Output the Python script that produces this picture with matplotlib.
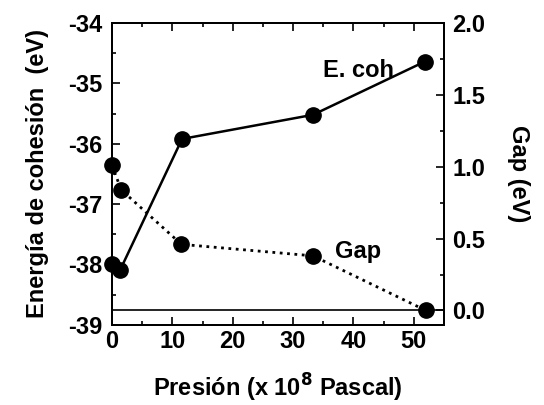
import matplotlib
matplotlib.use("Agg")
import matplotlib.pyplot as plt
from matplotlib.ticker import MultipleLocator

# values
presion_coh = [0.0, 1.3, 11.6, 33.3, 51.8]
energia_coh = [-38.0, -38.1, -35.92, -35.52, -34.64]

presion_gap = [0.0, 1.5, 11.5, 33.3, 52.0]
gap = [1.01, 0.84, 0.46, 0.38, 0.0]

plt.rcParams['font.family'] = ['Liberation Sans', 'DejaVu Sans']
plt.rcParams['font.size'] = 17
plt.rcParams['font.weight'] = 'bold'
plt.rcParams['axes.labelweight'] = 'bold'
plt.rcParams['axes.unicode_minus'] = False

fig = plt.figure(figsize=(5.44, 4.05), dpi=100)
ax = fig.add_axes([0.206, 0.198, 0.61, 0.745])
ax2 = ax.twinx()

ax.plot(presion_coh, energia_coh, color='black', lw=1.8, marker='o', ms=11,
        clip_on=False, zorder=3)
ax2.plot(presion_gap, gap, color='black', lw=2, ls=':', marker='o', ms=11,
         clip_on=False, zorder=3)
ax2.axhline(0.0, color='black', lw=1.2)

ax.set_xlim(0, 55)
ax.set_ylim(-39, -34)
ax2.set_ylim(-0.1, 2.0)

ax.xaxis.set_major_locator(MultipleLocator(10))
ax.xaxis.set_minor_locator(MultipleLocator(5))
ax.yaxis.set_major_locator(MultipleLocator(1))
ax.yaxis.set_minor_locator(MultipleLocator(0.5))
ax2.yaxis.set_major_locator(MultipleLocator(0.5))
ax2.yaxis.set_minor_locator(MultipleLocator(0.25))

ax.tick_params(which='both', direction='in', top=True, width=1.2)
ax.tick_params(which='major', length=6, labelsize=17)
ax.tick_params(axis='y', which='major', pad=7)
ax.tick_params(which='minor', length=3)
ax.tick_params(axis='y', right=False)
ax2.tick_params(which='both', direction='in', width=1.2)
ax2.tick_params(which='major', length=6, labelsize=17, pad=6)
ax2.tick_params(which='minor', length=3)
ax2.yaxis.set_major_formatter(plt.FormatStrFormatter('%.1f'))

for a in (ax, ax2):
    for s in a.spines.values():
        s.set_linewidth(1.4)

ax.set_xlabel('Presión (x 10$^\\mathbf{8}$ Pascal)', fontsize=17, labelpad=14)
ax.set_ylabel('Energía de cohesión  (eV)', fontsize=17, labelpad=14)
ax2.set_ylabel('Gap (eV)', fontsize=17, rotation=270, labelpad=32)

ax.text(35, -34.9, 'E. coh', fontsize=17)
ax.text(37, -37.9, 'Gap', fontsize=17)

fig.savefig('out.png', dpi=100)
